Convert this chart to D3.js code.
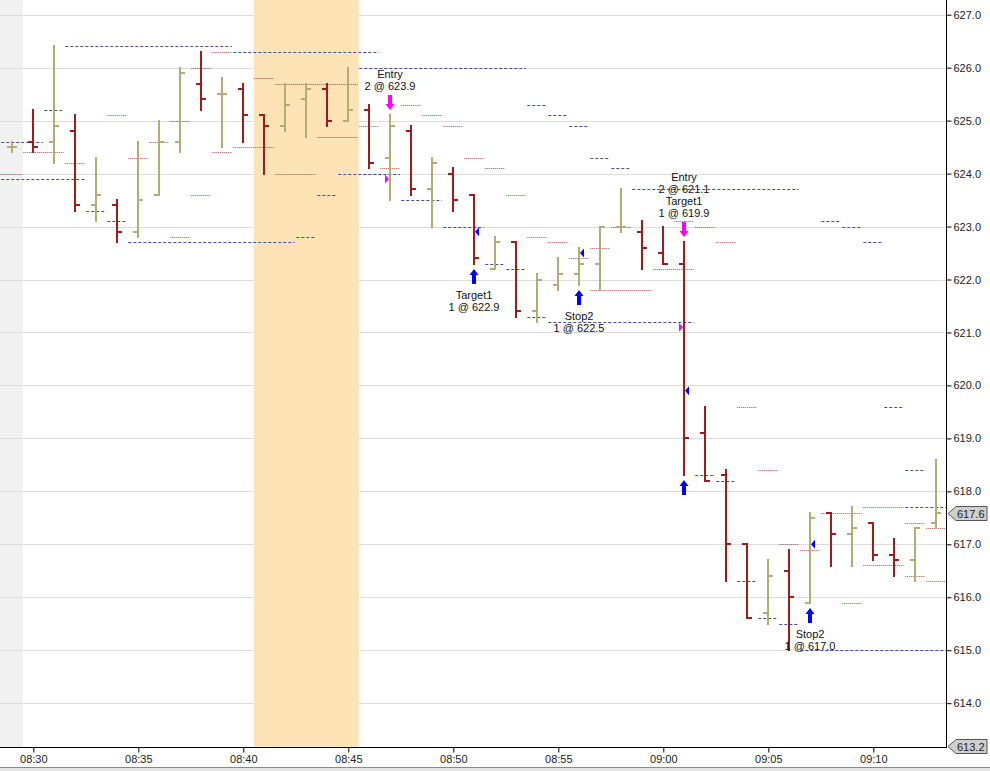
<!DOCTYPE html>
<html>
<head>
<meta charset="utf-8">
<script src="https://cdn.jsdelivr.net/npm/d3@7"></script>
<style>
  body { margin: 0; background: #fff; }
  svg { display: block; font-family: "Liberation Sans", Arial, sans-serif; }
</style>
</head>
<body>
<div id="chart"></div>
<script>
// 1-minute bars
const times = ["08:29","08:30","08:31","08:32","08:33","08:34","08:35","08:36","08:37","08:38",
  "08:39","08:40","08:41","08:42","08:43","08:44","08:45","08:46","08:47","08:48",
  "08:49","08:50","08:51","08:52","08:53","08:54","08:55","08:56","08:57","08:58",
  "08:59","09:00","09:01","09:02","09:03","09:04","09:05","09:06","09:07","09:08",
  "09:09","09:10","09:11","09:12","09:13"];
const opens = [624.5,624.6,624.6,624.8,623.4,623.4,622.9,623.6,624.6,625.7,
  625.5,625.6,625.1,624.9,625.4,625.6,625.0,625.2,624.3,624.8,
  623.7,624.0,623.6,622.2,622.7,621.4,621.9,622.1,622.3,623.0,
  622.9,622.5,622.3,619.1,618.3,617.0,615.7,616.5,615.9,617.6,
  617.2,617.4,616.8,616.7,617.4];
const highs = [624.6,625.2,626.4,625.1,624.3,623.5,624.6,625.0,626.0,626.3,
  625.8,625.7,625.1,625.7,625.7,625.7,626.0,625.3,625.1,624.9,
  624.3,624.1,623.6,622.8,622.7,622.1,622.4,622.6,623.0,623.7,
  623.1,623.0,622.7,619.6,618.4,617.0,616.7,616.9,617.6,617.6,
  617.7,617.4,617.1,617.3,618.6];
const lows = [624.4,624.4,624.2,623.3,623.1,622.7,622.8,623.6,624.4,625.2,
  624.5,624.6,624.0,624.8,624.7,624.9,625.0,624.1,623.5,623.6,
  623.0,623.3,622.3,622.2,621.3,621.2,621.8,621.9,621.8,622.9,
  622.2,622.3,618.3,618.2,616.3,615.6,615.5,615.0,615.9,616.6,
  616.6,616.7,616.4,616.3,617.3];
const closes = [624.5,624.5,624.9,623.4,623.6,622.9,623.5,624.6,625.9,625.4,
  625.5,625.1,624.9,625.3,625.6,625.0,625.2,624.2,624.9,623.7,
  624.2,623.5,622.4,622.7,621.4,622.0,622.1,622.3,623.0,623.0,
  622.6,622.3,619.0,618.2,617.0,615.6,616.4,616.0,617.5,617.2,
  617.3,616.8,616.7,617.3,617.6];

// indicator levels: [from bar, to bar, price]
const blueLevels = [
  ["08:28","08:30",624.6], ["08:28","08:32",623.9], ["08:31","08:31",625.2],
  ["08:32","08:39",626.4], ["08:33","08:33",623.3], ["08:34","08:34",623.1],
  ["08:35","08:42",622.7], ["08:40","08:46",626.3], ["08:43","08:43",622.8],
  ["08:44","08:44",623.6], ["08:45","08:47",624.0], ["08:46","08:53",626.0],
  ["08:48","08:49",623.5], ["08:50","08:51",623.0], ["08:52","08:52",622.3],
  ["08:53","08:53",622.2], ["08:54","08:54",621.3], ["08:54","08:54",625.3],
  ["08:55","09:01",621.2], ["08:55","08:55",625.1], ["08:56","08:56",624.9],
  ["08:57","08:57",624.3], ["08:58","08:58",624.1], ["08:59","09:06",623.7],
  ["09:02","09:02",618.3], ["09:03","09:03",618.2], ["09:04","09:04",616.3],
  ["09:05","09:05",615.6], ["09:06","09:06",615.5], ["09:07","09:13",615.0],
  ["09:08","09:08",623.1], ["09:09","09:09",623.0], ["09:10","09:10",622.7],
  ["09:11","09:11",619.6], ["09:12","09:12",618.4], ["09:12","09:13",617.7]
];
const redLevels = [
  ["08:28","08:29",624.0], ["08:30","08:31",624.4], ["08:32","08:32",624.2],
  ["08:34","08:34",625.1], ["08:35","08:35",624.3], ["08:36","08:36",624.6],
  ["08:37","08:37",625.0], ["08:37","08:37",622.8], ["08:38","08:38",626.0],
  ["08:38","08:38",623.6], ["08:39","08:39",626.3], ["08:39","08:39",624.4],
  ["08:40","08:41",624.5], ["08:41","08:41",625.8], ["08:42","08:45",625.7],
  ["08:42","08:43",624.0], ["08:44","08:45",624.7], ["08:46","08:46",624.9],
  ["08:47","08:47",624.1], ["08:48","08:48",625.3], ["08:49","08:49",625.1],
  ["08:50","08:50",624.9], ["08:51","08:51",624.3], ["08:52","08:52",624.1],
  ["08:53","08:53",623.6], ["08:54","08:54",622.8], ["08:55","08:55",622.7],
  ["08:56","08:56",622.4], ["08:57","08:57",622.6], ["08:57","08:59",621.8],
  ["08:58","08:58",623.0], ["09:00","09:01",622.2], ["09:01","09:01",623.1],
  ["09:02","09:02",623.0], ["09:03","09:03",622.7], ["09:04","09:04",619.6],
  ["09:05","09:05",618.4], ["09:06","09:06",617.0], ["09:07","09:07",616.9],
  ["09:08","09:09",617.6], ["09:09","09:09",615.9], ["09:10","09:11",617.7],
  ["09:10","09:11",616.6], ["09:12","09:12",617.4], ["09:12","09:12",616.4],
  ["09:13","09:13",617.3], ["09:13","09:13",616.3]
];

// executions
const fillTimes = ["08:47","08:51","08:56","09:01","09:01","09:07"];
const fillPrices = [623.9,622.9,622.5,621.1,619.9,617.0];
const fillSides = ["sell","buy","buy","sell","buy","buy"];

// arrows + labels
const signalTimes = ["08:47","08:51","08:56","09:01","09:01","09:07"];
const signalDirs = ["down","up","up","down","up","up"];
const signalLabels = [
  ["Entry","2 @ 623.9"],
  ["Target1","1 @ 622.9"],
  ["Stop2","1 @ 622.5"],
  ["Entry","2 @ 621.1","Target1","1 @ 619.9"],
  [],
  ["Stop2","1 @ 617.0"]
];

const priceTicks = [614,615,616,617,618,619,620,621,622,623,624,625,626,627];
const timeTicks = ["08:30","08:35","08:40","08:45","08:50","08:55","09:00","09:05","09:10"];
const lastPrice = 617.6;
const lowPrice = 613.2;
const preSessionEnd = "08:29";
const shadeFrom = "08:41", shadeTo = "08:45";

const width = 990, height = 771;
const plotRight = 946, plotBottom = 747;
const half = 10.5;

const parseT = d3.timeParse("%H:%M");
const x = d3.scaleTime()
  .domain([parseT("08:30"), parseT("09:10")])
  .range([33.3, 873.3]);
const y = d3.scaleLinear()
  .domain([627, 614])
  .range([14.7, 703.2]);

const redColor = "#a01c1c", tanColor = "#b3ad74";
const magenta = "#ff00ff", blue = "#0000ff";

const svg = d3.select("#chart").append("svg")
  .attr("width", width)
  .attr("height", height);

// backgrounds
svg.append("rect")
  .attr("x", 0).attr("y", 0)
  .attr("width", x(parseT(preSessionEnd)) + half)
  .attr("height", plotBottom)
  .attr("fill", "#f1f1f1");

svg.append("g")
  .selectAll("line")
  .data(priceTicks)
  .join("line")
    .attr("x1", 0).attr("x2", plotRight)
    .attr("y1", d => Math.round(y(d)) + 0.5)
    .attr("y2", d => Math.round(y(d)) + 0.5)
    .attr("stroke", "#dcdcdc");

svg.append("rect")
  .attr("x", x(parseT(shadeFrom)) - half)
  .attr("y", 0)
  .attr("width", x(parseT(shadeTo)) - x(parseT(shadeFrom)) + 2 * half)
  .attr("height", plotBottom)
  .attr("fill", "#fee3b6");

// level segments
function drawLevels(levels, color, dash) {
  svg.append("g")
    .selectAll("line")
    .data(levels)
    .join("line")
      .attr("x1", d => x(parseT(d[0])) - 10)
      .attr("x2", d => Math.min(plotRight, x(parseT(d[1])) + 9.5))
      .attr("y1", d => Math.round(y(d[2])) + 0.5)
      .attr("y2", d => Math.round(y(d[2])) + 0.5)
      .attr("stroke", color)
      .attr("stroke-dasharray", dash);
}
drawLevels(redLevels, "#b44848", "1,1");
drawLevels(blueLevels, "#3e4ea0", "3,2");

// OHLC bars
const bars = times.map((t, i) => ({
  t: parseT(t), o: opens[i], h: highs[i], l: lows[i], c: closes[i]
}));

const barG = svg.append("g")
  .attr("shape-rendering", "crispEdges")
  .attr("stroke-width", 2);

barG.selectAll("g")
  .data(bars)
  .join("g")
  .each(function(d) {
    const g = d3.select(this);
    const cx = Math.round(x(d.t));
    const col = d.c >= d.o ? tanColor : redColor;
    g.append("line")
      .attr("x1", cx).attr("x2", cx)
      .attr("y1", y(d.h) - 1).attr("y2", y(d.l) + 1)
      .attr("stroke", col);
    g.append("line")
      .attr("x1", cx - 5).attr("x2", cx)
      .attr("y1", Math.round(y(d.o))).attr("y2", Math.round(y(d.o)))
      .attr("stroke", col);
    g.append("line")
      .attr("x1", cx).attr("x2", cx + 5)
      .attr("y1", Math.round(y(d.c))).attr("y2", Math.round(y(d.c)))
      .attr("stroke", col);
  });

// fill markers (small triangles)
svg.append("g")
  .selectAll("path")
  .data(fillTimes.map((t, i) => ({ t: parseT(t), p: fillPrices[i], side: fillSides[i] })))
  .join("path")
    .attr("d", d => {
      const cx = Math.round(x(d.t)), cy = y(d.p);
      if (d.side === "sell") {
        return `M${cx - 1},${cy} L${cx - 5},${cy - 4.5} L${cx - 5},${cy + 4.5} Z`;
      }
      return `M${cx + 1},${cy} L${cx + 5},${cy - 4.5} L${cx + 5},${cy + 4.5} Z`;
    })
    .attr("fill", d => d.side === "sell" ? magenta : blue);

// signal arrows and labels
const barByTime = new Map(bars.map(b => [d3.timeFormat("%H:%M")(b.t), b]));

signalTimes.forEach((t, i) => {
  const b = barByTime.get(t);
  const cx = Math.round(x(b.t));
  const dir = signalDirs[i];
  const labels = signalLabels[i];
  const g = svg.append("g");
  if (dir === "down") {
    const tip = Math.round(y(b.h)) - 5;
    const top = tip - 15;
    g.append("path")
      .attr("d", `M${cx},${tip} L${cx - 4.5},${tip - 6} L${cx - 2},${tip - 6} L${cx - 2},${top} ` +
                 `L${cx + 2},${top} L${cx + 2},${tip - 6} L${cx + 4.5},${tip - 6} Z`)
      .attr("fill", magenta);
    g.selectAll("text")
      .data(labels)
      .join("text")
        .attr("x", cx)
        .attr("y", (d, j) => top - 5 - (labels.length - 1 - j) * 12)
        .attr("text-anchor", "middle")
        .attr("font-size", 11)
        .attr("fill", "#111")
        .text(d => d);
  } else {
    const tip = Math.round(y(b.l)) + 5;
    const bottom = tip + 15;
    g.append("path")
      .attr("d", `M${cx},${tip} L${cx - 4.5},${tip + 6} L${cx - 2},${tip + 6} L${cx - 2},${bottom} ` +
                 `L${cx + 2},${bottom} L${cx + 2},${tip + 6} L${cx + 4.5},${tip + 6} Z`)
      .attr("fill", blue);
    g.selectAll("text")
      .data(labels)
      .join("text")
        .attr("x", cx)
        .attr("y", (d, j) => bottom + 15 + j * 12)
        .attr("text-anchor", "middle")
        .attr("font-size", 11)
        .attr("fill", "#111")
        .text(d => d);
  }
});

// axes
const yAxis = d3.axisRight(y)
  .tickValues(priceTicks)
  .tickFormat(d3.format(".1f"))
  .tickSize(5)
  .tickSizeOuter(0)
  .tickPadding(2);

const yg = svg.append("g")
  .attr("transform", `translate(${plotRight + 0.5},0)`)
  .call(yAxis);
yg.select(".domain").remove();
yg.selectAll("text").attr("font-size", 11).attr("font-family", null).attr("fill", "#222");

const xAxis = d3.axisBottom(x)
  .tickValues(timeTicks.map(parseT))
  .tickFormat(d3.timeFormat("%H:%M"))
  .tickSize(5)
  .tickSizeOuter(0)
  .tickPadding(3);

const xg = svg.append("g")
  .attr("transform", `translate(0,${plotBottom + 0.5})`)
  .call(xAxis);
xg.select(".domain").remove();
xg.selectAll("text").attr("font-size", 11).attr("font-family", null).attr("fill", "#222");

svg.append("line")
  .attr("x1", plotRight + 0.5).attr("x2", plotRight + 0.5)
  .attr("y1", 0).attr("y2", plotBottom + 1)
  .attr("stroke", "#000");
svg.append("line")
  .attr("x1", 0).attr("x2", plotRight + 1)
  .attr("y1", plotBottom + 0.5).attr("y2", plotBottom + 0.5)
  .attr("stroke", "#000");

// price tags
function priceTag(p) {
  const cy = Math.round(y(p)) + 0.5;
  const g = svg.append("g");
  g.append("path")
    .attr("d", `M${plotRight + 2},${cy} L${plotRight + 10},${cy - 7} L${plotRight + 41},${cy - 7} ` +
               `L${plotRight + 41},${cy + 7} L${plotRight + 10},${cy + 7} Z`)
    .attr("fill", "#cfcfcf")
    .attr("stroke", "#555");
  g.append("text")
    .attr("x", plotRight + 11)
    .attr("y", cy + 4)
    .attr("font-size", 11)
    .attr("fill", "#222")
    .text(d3.format(".1f")(p));
}
priceTag(lastPrice);
priceTag(lowPrice);

// bottom scroll strip
svg.append("rect")
  .attr("x", 0).attr("y", 767)
  .attr("width", width).attr("height", 4)
  .attr("fill", "#e6e6e6");
svg.append("line")
  .attr("x1", 0).attr("x2", width)
  .attr("y1", 767.5).attr("y2", 767.5)
  .attr("stroke", "#8a8a8a");
</script>
</body>
</html>
